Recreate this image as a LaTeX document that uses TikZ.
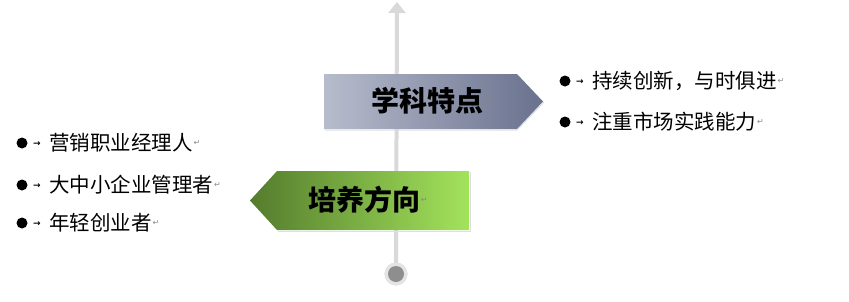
\documentclass[tikz,border=0pt]{standalone}
\usepackage{fontspec}
\newfontfamily\cjk{Noto Sans CJK SC}
\newfontfamily\symf{DejaVu Sans}
\usetikzlibrary{arrows.meta}
\definecolor{axisgray}{HTML}{D9D9D9}
\definecolor{dotgray}{HTML}{8E8E8E}
\definecolor{blueL}{HTML}{B7BCCC}
\definecolor{blueR}{HTML}{69718E}
\definecolor{greenL}{HTML}{547C2D}
\definecolor{greenR}{HTML}{A3E35B}
\definecolor{markgray}{HTML}{8A8A8A}
\tikzset{
  title/.style={font=\cjk\bfseries\fontsize{28}{30}\selectfont, inner sep=0pt, text=black},
  item/.style={anchor=west, font=\cjk\fontsize{20.5}{22}\selectfont, inner sep=0pt, text=black},
  retmark/.style={anchor=west, font=\symf\fontsize{8}{9}\selectfont, text=markgray, inner sep=0.5pt},
  tabmark/.style={font=\symf\bfseries\fontsize{9}{10}\selectfont, inner sep=0pt, text=black},
  bulletdot/.style={circle, fill=black, minimum size=11pt, inner sep=0pt},
}
\begin{document}
\begin{tikzpicture}[x=1pt,y=-1pt]
\useasboundingbox (0,0) rectangle (849,301);
% axis
\coordinate (top) at (397,2);
\node[circle, fill=axisgray, minimum size=23pt, inner sep=0pt] (base) at (396,274) {};
\draw[line width=4pt, axisgray, -{Triangle[width=17pt,length=11pt]}] (base.center) -- (top);
\node[circle, fill=axisgray!70, minimum size=23pt, inner sep=0pt] at (396,274) {};
\node[circle, fill=dotgray, minimum size=16pt, inner sep=0pt] (dot) at (396,274) {};
% top box
\draw[gray!25, line width=1pt] (325,130) -- (517,130) -- (544,102);
\shade[left color=blueL, right color=blueR] (324,74) -- (517,74) -- (543,101.5) -- (517,129) -- (324,129) -- cycle;
\node[title] (t1) at (427,101) {学科特点};
\node[retmark] at (t1.east) {↵};
% bottom box
\draw[gray!25, line width=1pt] (278,231) -- (470,231) -- (470,172);
\shade[left color=greenL, right color=greenR] (250,200.5) -- (277,171) -- (469,171) -- (469,230) -- (277,230) -- cycle;
\node[title] (t2) at (364,200) {培养方向};
\node[retmark] at (t2.east) {↵};
% right items
\node[bulletdot] (rb1) at (565,81) {};
\node[tabmark] (rt1) at (580,82) {→};
\node[item] (r1) at (592,81) {持续创新，与时俱进};
\node[retmark] at (r1.east) {↵};
\node[bulletdot] (rb2) at (565,122) {};
\node[tabmark] (rt2) at (580,123) {→};
\node[item] (r2) at (592,122) {注重市场实践能力};
\node[retmark] at (r2.east) {↵};
% left items
\node[bulletdot] (lb1) at (22,143) {};
\node[tabmark] (lt1) at (37,144) {→};
\node[item] (l1) at (49,143) {营销职业经理人};
\node[retmark] at (l1.east) {↵};
\node[bulletdot] (lb2) at (22,185) {};
\node[tabmark] (lt2) at (37,186) {→};
\node[item] (l2) at (49,185) {大中小企业管理者};
\node[retmark] at (l2.east) {↵};
\node[bulletdot] (lb3) at (22,223) {};
\node[tabmark] (lt3) at (37,224) {→};
\node[item] (l3) at (49,223) {年轻创业者};
\node[retmark] at (l3.east) {↵};
\end{tikzpicture}
\end{document}
